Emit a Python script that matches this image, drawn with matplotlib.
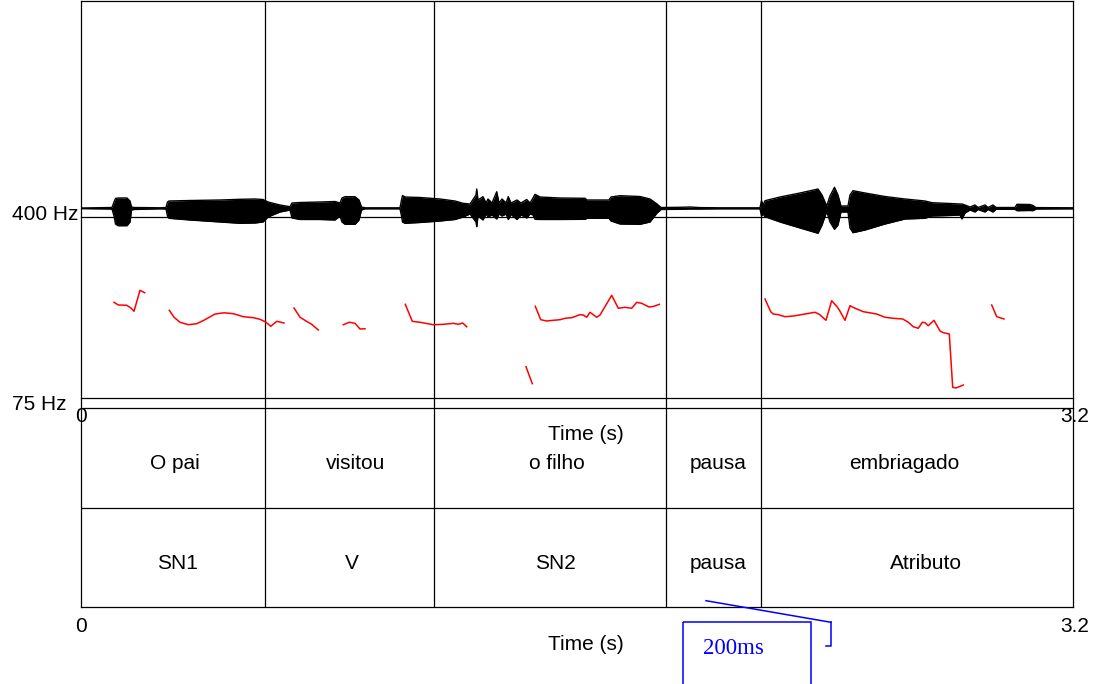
import matplotlib
matplotlib.use('Agg')
import matplotlib.pyplot as plt
from matplotlib.patches import Rectangle

plt.rcParams['font.family'] = ['Liberation Sans', 'DejaVu Sans']

# ---- data ----
t_max = 3.2

# waveform envelope (s, upper, lower amplitude)
wave_t = [0, 0.1, 0.1065, 0.1113, 0.1194, 0.1484, 0.1581, 0.1629, 0.171, 0.2065,
          0.2548, 0.2742, 0.279, 0.2839, 0.3516, 0.4484, 0.5129, 0.5613, 0.5871, 0.6032,
          0.6419, 0.6742, 0.6806, 0.7065, 0.771, 0.8194, 0.8355, 0.8419, 0.8516, 0.8839,
          0.8968, 0.9048, 0.9161, 1.029, 1.0339, 1.0371, 1.0452, 1.0935, 1.1581, 1.2065,
          1.2323, 1.2548, 1.2742, 1.2765, 1.2806, 1.2968, 1.3065, 1.3129, 1.3258, 1.341,
          1.3484, 1.3581, 1.371, 1.3784, 1.3871, 1.4065, 1.4194, 1.4377, 1.4484, 1.4581,
          1.4645, 1.4806, 1.5452, 1.6258, 1.6323, 1.7032, 1.7097, 1.7387, 1.8032, 1.8355,
          1.8581, 1.871, 1.9323, 1.9645, 1.9968, 2.0613, 2.1903, 2.1952, 2.2, 2.2065,
          2.2548, 2.3194, 2.3774, 2.3903, 2.4055, 2.4161, 2.4306, 2.4419, 2.4516, 2.4742,
          2.4806, 2.4903, 2.529, 2.5935, 2.6581, 2.7226, 2.7452, 2.8032, 2.8355, 2.8419,
          2.8516, 2.8677, 2.8839, 2.8935, 2.9161, 2.9258, 2.9419, 2.9516, 3.0129, 3.0194,
          3.0613, 3.071, 3.0806, 3.2]
wave_hi = [0.003, 0.008, 0.063, 0.098, 0.103, 0.103, 0.073, 0.013, 0.008, 0.007,
           0.005, 0.008, 0.063, 0.073, 0.078, 0.083, 0.09, 0.093, 0.088, 0.063,
           0.033, 0.016, 0.053, 0.058, 0.063, 0.068, 0.053, 0.103, 0.116, 0.116,
           0.083, 0.013, 0.005, 0.005, 0.083, 0.128, 0.113, 0.108, 0.093, 0.073,
           0.05, 0.043, 0.133, 0.193, 0.083, 0.116, 0.053, 0.093, 0.053, 0.166,
           0.053, 0.093, 0.053, 0.116, 0.053, 0.083, 0.053, 0.088, 0.053, 0.103,
           0.14, 0.113, 0.103, 0.1, 0.083, 0.083, 0.113, 0.126, 0.118, 0.093,
           0.043, 0.008, 0.01, 0.013, 0.007, 0.005, 0.005, 0.076, 0.033, 0.076,
           0.113, 0.153, 0.193, 0.133, 0.023, 0.123, 0.21, 0.133, 0.023, 0.023,
           0.133, 0.176, 0.153, 0.118, 0.093, 0.073, 0.056, 0.048, 0.043, 0.043,
           0.033, 0.013, 0.033, 0.008, 0.033, 0.008, 0.033, 0.008, 0.008, 0.04,
           0.038, 0.028, 0.007, 0.005]
wave_lo = [-0.003, -0.007, -0.077, -0.157, -0.174, -0.174, -0.137, -0.017, -0.012, -0.009,
           -0.005, -0.007, -0.077, -0.1, -0.117, -0.137, -0.15, -0.147, -0.137, -0.087,
           -0.037, -0.017, -0.097, -0.112, -0.112, -0.117, -0.077, -0.137, -0.16, -0.16,
           -0.117, -0.017, -0.005, -0.005, -0.077, -0.137, -0.15, -0.142, -0.127, -0.112,
           -0.087, -0.057, -0.137, -0.184, -0.077, -0.117, -0.057, -0.087, -0.067, -0.107,
           -0.057, -0.077, -0.057, -0.112, -0.062, -0.112, -0.067, -0.097, -0.057, -0.067,
           -0.11, -0.112, -0.112, -0.11, -0.1, -0.1, -0.127, -0.157, -0.16, -0.137,
           -0.047, -0.012, -0.01, -0.007, -0.007, -0.005, -0.005, -0.077, -0.057, -0.084,
           -0.137, -0.197, -0.25, -0.167, -0.032, -0.137, -0.21, -0.167, -0.037, -0.037,
           -0.197, -0.244, -0.217, -0.157, -0.107, -0.1, -0.077, -0.072, -0.067, -0.107,
           -0.047, -0.017, -0.037, -0.012, -0.037, -0.012, -0.037, -0.01, -0.01, -0.024,
           -0.022, -0.024, -0.007, -0.005]

# pitch track (voiced stretches)
pitch_t = [
    [0.1065, 0.1203, 0.1474, 0.1603, 0.171, 0.1903, 0.2055],
    [0.2848, 0.3, 0.3194, 0.3461, 0.3732, 0.4, 0.4323, 0.4613, 0.4913, 0.5235,
     0.5558, 0.5774, 0.5958, 0.6119, 0.6313, 0.6548],
    [0.6871, 0.7065, 0.7258, 0.7442, 0.7655],
    [0.8461, 0.8655, 0.8839, 0.9, 0.9161],
    [1.0461, 1.0687, 1.0935, 1.1365, 1.1687, 1.201, 1.2171, 1.2313, 1.2442],
    [1.4355, 1.4558],
    [1.4655, 1.4829, 1.5023, 1.5235, 1.5452, 1.5613, 1.5829, 1.6097, 1.6203, 1.6313,
     1.6419, 1.6635, 1.6742, 1.6935, 1.7119, 1.7332, 1.7548, 1.7765, 1.7926, 1.8087,
     1.8323, 1.8484, 1.8655],
    [2.2065, 2.2248, 2.2332, 2.2494, 2.271, 2.2977, 2.33, 2.3677, 2.3816, 2.4032,
     2.4216, 2.4377, 2.4461, 2.4645, 2.4806, 2.4935, 2.5235, 2.5668, 2.5935, 2.6203,
     2.6506, 2.6687, 2.6848, 2.701, 2.7139, 2.7226, 2.7332, 2.7516, 2.771, 2.7816,
     2.801, 2.8119, 2.8226, 2.8461],
    [2.9377, 2.9539, 2.9774],
]
pitch_hz = [
    [246.8, 242, 241.5, 237, 230.7, 268.4, 264],
    [232.5, 220, 211, 206.6, 208.4, 215.6, 225.8, 228, 226.4, 221,
     219.2, 216.3, 211.5, 203.7, 212.7, 209.7],
    [236.6, 220, 213.3, 207.3, 197.1],
    [206.6, 211, 209.1, 198.9, 199.4],
    [243.2, 212.7, 211, 206.6, 207.3, 209.1, 207.3, 209.7, 203],
    [131.2, 100.7],
    [239.7, 215.6, 213.3, 214.5, 215.6, 218.1, 219.2, 224.6, 224, 220,
     228.9, 220, 224, 242, 259.4, 236.1, 237.9, 236.1, 246.8, 245,
     238.4, 239.7, 243.2],
    [252.8, 230, 225.8, 224.6, 221, 222.2, 225.3, 228.9, 225.3, 214.5,
     249.7, 239.7, 233, 214.5, 240.7, 237, 230, 225.8, 220, 218.1,
     216.9, 211, 203, 200.2, 211, 210.2, 204.8, 214.5, 195.3, 192.3,
     189.9, 94.2, 93, 98.3],
    [242, 221, 216.9],
]
pitch_min, pitch_max = 75, 400

# TextGrid
boundaries = [0.5935, 1.1387, 1.887, 2.1935]
tier1_labels = ['O pai', 'visitou', 'o filho', 'pausa', 'embriagado']
tier1_pos = [0.303, 0.887, 1.535, 2.055, 2.655]
tier2_labels = ['SN1', 'V', 'SN2', 'pausa', 'Atributo']
tier2_pos = [0.31, 0.874, 1.529, 2.055, 2.726]

# ---- layout helpers (pixels of the 1100x684 canvas) ----
W, H = 1100, 684


def rect(x0, y0, x1, y1):
    return [x0 / W, 1 - y1 / H, (x1 - x0) / W, (y1 - y0) / H]


fig = plt.figure(figsize=(11, 6.84), dpi=100)
fs = 15
lw = 0.9

# outer frame and interval boundaries
ax_frame = fig.add_axes(rect(81, 0.5, 1073, 607))
ax_frame.set_xlim(0, t_max)
ax_frame.set_ylim(0, 1)
ax_frame.set_xticks([])
ax_frame.set_yticks([])
ax_frame.patch.set_alpha(0)
for s in ax_frame.spines.values():
    s.set_linewidth(lw)
for b in boundaries:
    ax_frame.axvline(b, color='black', lw=lw)

# waveform
ax_wave = fig.add_axes(rect(81, 108.3, 1073, 308.3))
ax_wave.set_xlim(0, t_max)
ax_wave.set_ylim(-1, 1)
ax_wave.axis('off')
ax_wave.fill_between(wave_t, wave_lo, wave_hi, color='black', lw=0)
ax_wave.plot(wave_t, wave_hi, color='black', lw=1.0)
ax_wave.plot(wave_t, wave_lo, color='black', lw=1.0)

# pitch
ax_pitch = fig.add_axes(rect(81, 217, 1073, 398))
ax_pitch.set_xlim(0, t_max)
ax_pitch.set_ylim(pitch_min, pitch_max)
ax_pitch.patch.set_alpha(0)
ax_pitch.set_xticks([])
ax_pitch.set_yticks([])
ax_pitch.spines['left'].set_visible(False)
ax_pitch.spines['right'].set_visible(False)
ax_pitch.spines['top'].set_linewidth(lw)
ax_pitch.spines['bottom'].set_linewidth(lw)
for ts, hz in zip(pitch_t, pitch_hz):
    ax_pitch.plot(ts, hz, color='red', lw=1.1)
ax_pitch.annotate('400 Hz', xy=(12 / W, pitch_max), xycoords=('figure fraction', 'data'),
                  xytext=(0, 2), textcoords='offset pixels', ha='left', va='center', fontsize=fs)
ax_pitch.annotate('75 Hz', xy=(12 / W, pitch_min), xycoords=('figure fraction', 'data'),
                  xytext=(0, -6), textcoords='offset pixels', ha='left', va='center', fontsize=fs)

# TextGrid tiers
ax_tg = fig.add_axes(rect(81, 408, 1073, 607))
ax_tg.set_xlim(0, t_max)
ax_tg.set_ylim(0, 2)
ax_tg.patch.set_alpha(0)
ax_tg.set_xticks([])
ax_tg.set_yticks([])
for side in ['left', 'right', 'bottom']:
    ax_tg.spines[side].set_visible(False)
ax_tg.spines['top'].set_linewidth(lw)
ax_tg.axhline(1, color='black', lw=lw)
for lab, x in zip(tier1_labels, tier1_pos):
    ax_tg.annotate(lab, xy=(x, 1.5), xytext=(0, -6), textcoords='offset pixels',
                   ha='center', va='center', fontsize=fs)
for lab, x in zip(tier2_labels, tier2_pos):
    ax_tg.annotate(lab, xy=(x, 0.5), xytext=(0, -6), textcoords='offset pixels',
                   ha='center', va='center', fontsize=fs)

# time axis labels (top of tier area and below it)
for y0, dy_num, dy_lab in [(2, -8, -26), (0, -19, -37)]:
    ax_tg.annotate('0', xy=(0, y0), xytext=(0, dy_num), textcoords='offset pixels',
                   ha='center', va='center', fontsize=fs)
    ax_tg.annotate('3.2', xy=(t_max, y0), xytext=(2, dy_num), textcoords='offset pixels',
                   ha='center', va='center', fontsize=fs)
    ax_tg.annotate('Time (s)', xy=(1.629, y0), xytext=(0, dy_lab), textcoords='offset pixels',
                   ha='center', va='center', fontsize=fs)

# blue hand-drawn annotation
ax_note = fig.add_axes([0, 0, 1, 1])
ax_note.set_xlim(0, W)
ax_note.set_ylim(H, 0)
ax_note.axis('off')
blue = '#0000ff'
ax_note.plot([706, 831], [600.7, 622.3], color=blue, lw=1.1)
ax_note.plot([831, 831, 826], [622.3, 645.7, 645.7], color=blue, lw=1.1)
ax_note.add_patch(Rectangle((683.3, 621.7), 127.4, 80, fill=False, edgecolor=blue, lw=1.1))
ax_note.text(703, 648, '200ms', color=blue, fontsize=16.5, family='Liberation Serif',
             ha='left', va='center')

fig.savefig('out.png', dpi=100)
